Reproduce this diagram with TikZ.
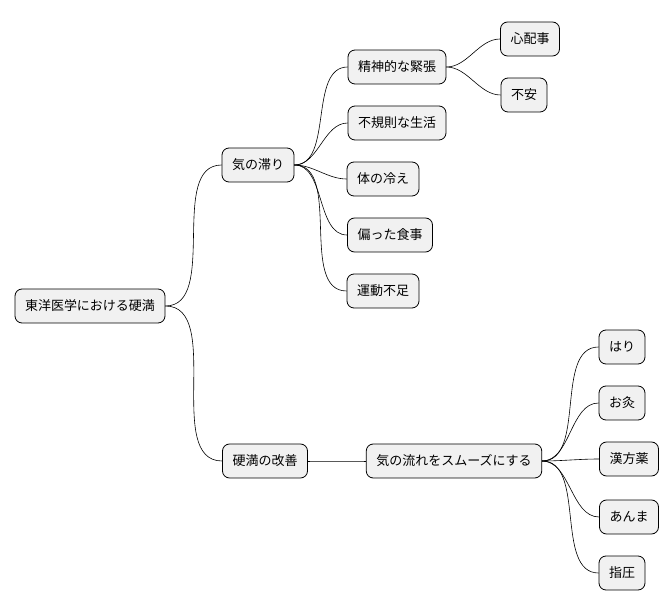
\documentclass[tikz,border=0pt]{standalone}
\usepackage{fontspec}
\setmainfont{Noto Sans CJK JP}
\begin{document}
\begin{tikzpicture}[x=1pt,y=-1pt,
 box/.style={draw=black,line width=0.8pt,fill={rgb,255:red,241;green,241;blue,241},rounded corners=7pt,minimum height=34pt,inner xsep=10pt,font=\fontsize{13}{15}\selectfont},
 e/.style={line width=0.6pt,out=0,in=180,looseness=0.9}]
\useasboundingbox (0,0) rectangle (670,612);
\node[box] (r) at (90,306) {東洋医学における硬満};
\node[box] (a) at (258,165) {気の滞り};
\node[box] (a1) at (397,67) {精神的な緊張};
\node[box] (a11) at (530,39) {心配事};
\node[box] (a12) at (524,95) {不安};
\node[box] (a2) at (397,123) {不規則な生活};
\node[box] (a3) at (383,179) {体の冷え};
\node[box] (a4) at (390,235) {偏った食事};
\node[box] (a5) at (383,291) {運動不足};
\node[box] (b) at (265,461) {硬満の改善};
\node[box] (b1) at (454,461) {気の流れをスムーズにする};
\node[box] (c1) at (622,347) {はり};
\node[box] (c2) at (622,403) {お灸};
\node[box] (c3) at (629,459) {漢方薬};
\node[box] (c4) at (629,517) {あんま};
\node[box] (c5) at (622,573) {指圧};
\foreach \p/\c in {r/a,r/b,a/a1,a/a2,a/a3,a/a4,a/a5,a1/a11,a1/a12,b/b1,b1/c1,b1/c2,b1/c3,b1/c4,b1/c5}
  \draw[e] (\p.east) to (\c.west);
\end{tikzpicture}
\end{document}
